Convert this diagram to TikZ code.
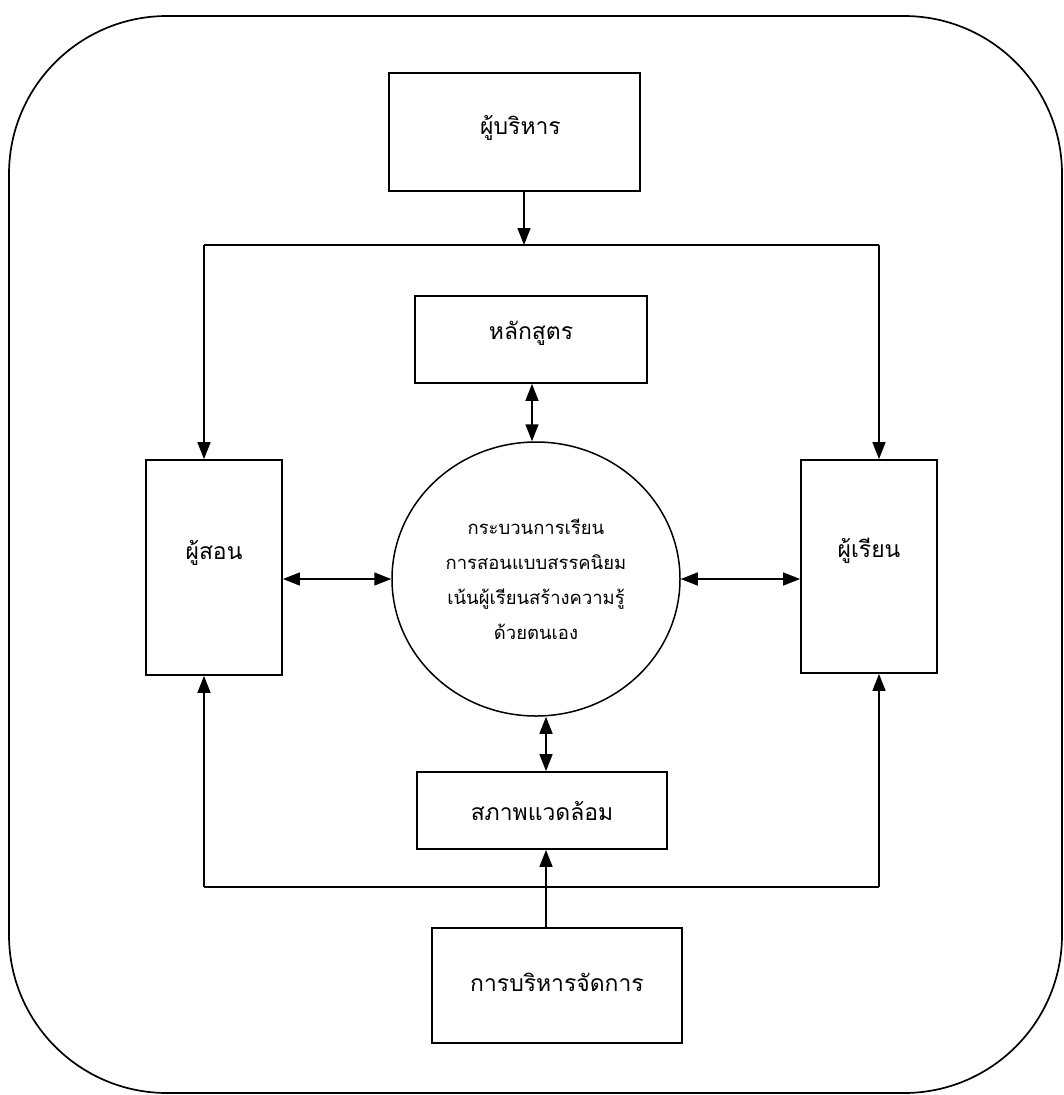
\documentclass[tikz,border=0pt]{standalone}
\usepackage{fontspec}
\newfontfamily\thaifont[Script=Thai]{Loma}
\usetikzlibrary{arrows.meta,shapes.geometric}
\tikzset{
  box/.style={draw, line width=1.8bp, rectangle, inner sep=0pt},
  lbl/.style={font=\thaifont\fontsize{23}{27}\selectfont},
  arr/.style={-{Triangle[length=17bp,width=13bp]}, line width=1.5bp},
  dbl/.style={{Triangle[length=17bp,width=13bp]}-{Triangle[length=17bp,width=13bp]}, line width=1.5bp},
  plain/.style={line width=1.5bp},
  outer/.style={draw, line width=1.7bp, rounded corners=158bp}
}
\begin{document}
\begin{tikzpicture}[x=1bp,y=-1bp]
\useasboundingbox (0,0) rectangle (1064,1095);
\draw[outer] (9,16) rectangle (1062,1093);
% boxes
\node[box, minimum width=251bp, minimum height=118bp,
  label={[lbl, xshift=6bp, yshift=4bp]center:ผู้บริหาร}] (exec) at (514.5,132) {};
\node[box, minimum width=232bp, minimum height=87bp,
  label={[lbl, yshift=6bp]center:หลักสูตร}] (curr) at (531,339.5) {};
\node[draw, ellipse, line width=1.5bp, minimum width=288bp, minimum height=274bp, inner sep=0pt,
  align=center, font=\thaifont\fontsize{18.5}{35}\selectfont] (proc) at (536,579)
  {กระบวนการเรียน\\การสอนแบบสรรคนิยม\\เน้นผู้เรียนสร้างความรู้\\ด้วยตนเอง};
\node[box, minimum width=136bp, minimum height=215bp,
  label={[lbl, yshift=15bp]center:ผู้สอน}] (teach) at (214,567.5) {};
\node[box, minimum width=136bp, minimum height=213bp,
  label={[lbl, yshift=16bp]center:ผู้เรียน}] (learn) at (869,566.5) {};
\node[box, minimum width=250bp, minimum height=77bp,
  label={[lbl]center:สภาพแวดล้อม}] (env) at (542,810.5) {};
\node[box, minimum width=250bp, minimum height=115bp,
  label={[lbl, yshift=3bp]center:การบริหารจัดการ}] (mgmt) at (557,985.5) {};
% junction coordinates
\coordinate (tj) at (524,245);
\coordinate (tl) at (204,245);
\coordinate (tr) at (879,245);
\coordinate (bj) at (546,887);
\coordinate (bl) at (204,887);
\coordinate (br) at (879,887);
\coordinate (cx) at (532,0);
\coordinate (ex) at (546,0);
% top distribution
\draw[arr] (exec.south -| tj) -- (tj);
\draw[plain] (tl) -- (tr);
\draw[arr] (tl) -- (teach.north -| tl);
\draw[arr] (tr) -- (learn.north -| tr);
% centre links
\draw[dbl] (curr.south -| cx) -- (proc.north -| cx);
\draw[dbl] (teach.east |- proc.center) -- (proc.west);
\draw[dbl] (proc.east) -- (learn.west |- proc.center);
\draw[dbl] (proc.south -| ex) -- (env.north -| ex);
% bottom distribution
\draw[arr] (mgmt.north -| bj) -- (env.south -| bj);
\draw[plain] (bl) -- (br);
\draw[arr] (bl) -- (teach.south -| bl);
\draw[arr] (br) -- (learn.south -| br);
\end{tikzpicture}
\end{document}
